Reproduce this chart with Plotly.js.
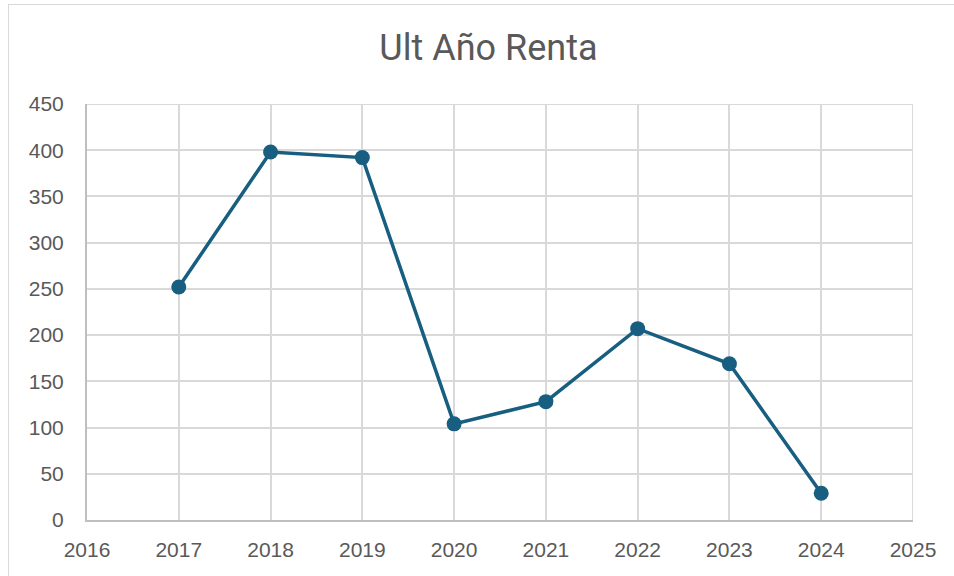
<!DOCTYPE html>
<html><head><meta charset="utf-8">
<script src="https://cdn.plot.ly/plotly-3.0.1.min.js"></script>
<style>html,body{margin:0;padding:0;background:#fff;}#frame{position:absolute;left:8px;top:4px;width:960px;height:600px;border:1px solid #d9d9d9;box-sizing:border-box;pointer-events:none;}#chart{position:absolute;left:0;top:0;width:954px;height:576px;}</style>
</head><body>
<div id="chart"></div><div id="frame"></div>
<script>
const years = [2017, 2018, 2019, 2020, 2021, 2022, 2023, 2024];
const renta = [252, 398, 392, 104, 128, 207, 169, 29];
const xTicks = [2016, 2017, 2018, 2019, 2020, 2021, 2022, 2023, 2024, 2025];
const yTicks = [0, 50, 100, 150, 200, 250, 300, 350, 400, 450];
const titleText = "Ult Año Renta";

Plotly.newPlot('chart', [{
  x: years, y: renta, type: 'scatter', mode: 'lines+markers',
  line: {color: '#175e80', width: 3.5},
  marker: {color: '#175e80', size: 15},
  cliponaxis: false, hoverinfo: 'skip'
}], {
  width: 954, height: 576,
  margin: {l: 87, r: 41, t: 104, b: 56},
  paper_bgcolor: '#fff', plot_bgcolor: '#fff',
  showlegend: false,
  title: {text: titleText, x: 0.512, xanchor: 'center', y: 0.917, yanchor: 'middle',
    font: {family: 'Roboto, Liberation Sans, sans-serif', size: 36, color: '#595959'}},
  xaxis: {range: [2016, 2025], tickvals: xTicks, ticktext: xTicks.map(String),
    showgrid: true, gridcolor: '#d9d9d9', gridwidth: 2, zeroline: false,
    showline: true, linecolor: '#bfbfbf', linewidth: 2, ticks: '',
    tickfont: {family: 'Liberation Sans, Arial, sans-serif', size: 21, color: '#595959'}, ticklabelstandoff: 10},
  yaxis: {range: [0, 450], tickvals: yTicks, ticktext: yTicks.map(String),
    showgrid: true, gridcolor: '#d9d9d9', gridwidth: 2, zeroline: false,
    showline: true, linecolor: '#bfbfbf', linewidth: 2, ticks: '', mirror: false,
    tickfont: {family: 'Liberation Sans, Arial, sans-serif', size: 21, color: '#595959'}, ticklabelstandoff: 17},
  shapes: [
    {type: 'line', xref: 'x', yref: 'y', x0: 2025, x1: 2025, y0: 0, y1: 450, line: {color: '#d9d9d9', width: 2}},
    {type: 'line', xref: 'x', yref: 'y', x0: 2016, x1: 2025, y0: 450, y1: 450, line: {color: '#d9d9d9', width: 2}}
  ]
}, {displayModeBar: false, staticPlot: true});
</script>
</body></html>
